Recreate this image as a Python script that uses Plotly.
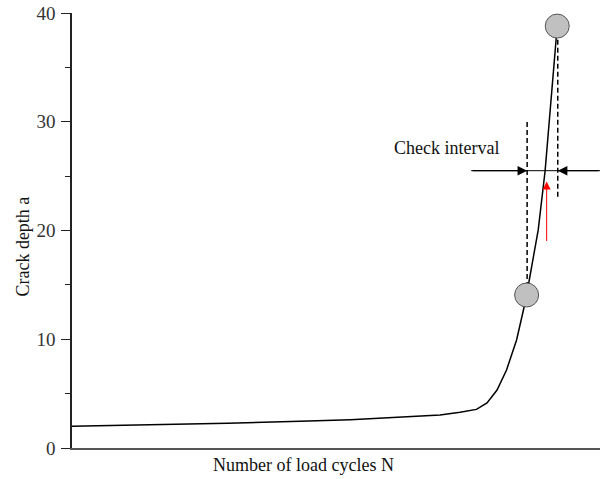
import plotly.graph_objects as go

# Crack growth curve (x in arbitrary cycle units 0..100, y = crack depth)
cycles = [0, 7.0, 14.4, 22.0, 29.5, 35.6, 43.2, 52.7, 62.1, 69.7, 73.5, 76.6,
          78.6, 79.7, 80.5, 82.3, 84.2, 85.5, 86.1, 87.1, 88.3, 89.6, 90.7, 91.9]
depth = [2.0, 2.05, 2.12, 2.2, 2.28, 2.33, 2.45, 2.6, 2.82, 3.03, 3.28, 3.55,
         4.14, 4.87, 5.33, 7.17, 9.93, 12.69, 14.07, 16.8, 20.05, 25.47, 31.5, 38.8]

# Inspection points
insp_x = [86.1, 91.9]
insp_y = [14.07, 38.8]

# Dashed guide lines
dash_left_x = [86.2, 86.2]
dash_left_y = [14.07, 30.0]
dash_right_x = [92.0, 92.0]
dash_right_y = [23.1, 38.8]

# Check interval arrows
interval_y = 25.5
interval_line_x = [75.6, 100]
interval_left_tail, interval_left_head = 75.6, 86.2
interval_right_tail, interval_right_head = 100, 92.0

# Red arrow
red_x = 89.9
red_tail_y, red_head_y = 18.9, 24.5

label_x, label_y = 71.0, 27.6

yticks = [0, 10, 20, 30, 40]

SERIF = "Liberation Serif, Times New Roman, serif"

fig = go.Figure()

fig.add_trace(go.Scatter(x=dash_left_x, y=dash_left_y, mode="lines",
                         line=dict(color="black", width=1.5, dash="5px,3px"),
                         hoverinfo="skip", showlegend=False))
fig.add_trace(go.Scatter(x=dash_right_x, y=dash_right_y, mode="lines",
                         line=dict(color="black", width=1.5, dash="5px,3px"),
                         hoverinfo="skip", showlegend=False))
fig.add_trace(go.Scatter(x=interval_line_x, y=[interval_y, interval_y], mode="lines",
                         line=dict(color="black", width=1),
                         hoverinfo="skip", showlegend=False))
fig.add_trace(go.Scatter(x=cycles, y=depth, mode="lines",
                         line=dict(color="black", width=1.5),
                         showlegend=False))
fig.add_trace(go.Scatter(x=insp_x, y=insp_y, mode="markers",
                         marker=dict(size=24, color="#c0c0c0",
                                     line=dict(color="#555555", width=1)),
                         showlegend=False))

fig.add_annotation(x=interval_left_head, y=interval_y, ax=interval_left_tail, ay=interval_y,
                   xref="x", yref="y", axref="x", ayref="y", text="",
                   showarrow=True, arrowhead=2, arrowsize=1.6, arrowwidth=1.2,
                   arrowcolor="black")
fig.add_annotation(x=interval_right_head, y=interval_y, ax=interval_right_tail, ay=interval_y,
                   xref="x", yref="y", axref="x", ayref="y", text="",
                   showarrow=True, arrowhead=2, arrowsize=1.6, arrowwidth=1.2,
                   arrowcolor="black")
fig.add_annotation(x=red_x, y=red_head_y, ax=red_x, ay=red_tail_y,
                   xref="x", yref="y", axref="x", ayref="y", text="",
                   showarrow=True, arrowhead=2, arrowsize=1.6, arrowwidth=1,
                   arrowcolor="red")
fig.add_annotation(x=label_x, y=label_y, xref="x", yref="y", text="Check interval",
                   showarrow=False, font=dict(family=SERIF, size=18, color="#111111"),
                   xanchor="center", yanchor="middle")

fig.add_annotation(x=0.439, y=-0.039, xref="paper", yref="paper",
                   text="Number of load cycles N", showarrow=False,
                   font=dict(family=SERIF, size=18, color="#111111"),
                   xanchor="center", yanchor="middle")
fig.add_annotation(x=-0.0928, y=0.463, xref="paper", yref="paper",
                   text="Crack depth a", showarrow=False, textangle=-90,
                   font=dict(family=SERIF, size=18, color="#111111"),
                   xanchor="center", yanchor="middle")

fig.update_layout(
    width=600, height=479,
    margin=dict(l=72, r=0, t=13, b=31),
    paper_bgcolor="white", plot_bgcolor="white",
    xaxis=dict(range=[0, 100], showgrid=False, zeroline=False, showticklabels=False,
               ticks="", showline=True, linecolor="#555555", linewidth=2),
    yaxis=dict(range=[0, 40], showgrid=False, zeroline=False, showline=True,
               linecolor="#222222", linewidth=1.5, tickvals=yticks,
               ticks="outside", ticklen=9, tickwidth=1.2, tickcolor="#222222",
               ticklabelstandoff=2,
               tickfont=dict(family=SERIF, size=19, color="#333333"),
               minor=dict(tickvals=[5, 15, 25, 35], ticks="outside", ticklen=5,
                          tickwidth=1.2, tickcolor="#222222")),
)

fig.write_html("out.html")
